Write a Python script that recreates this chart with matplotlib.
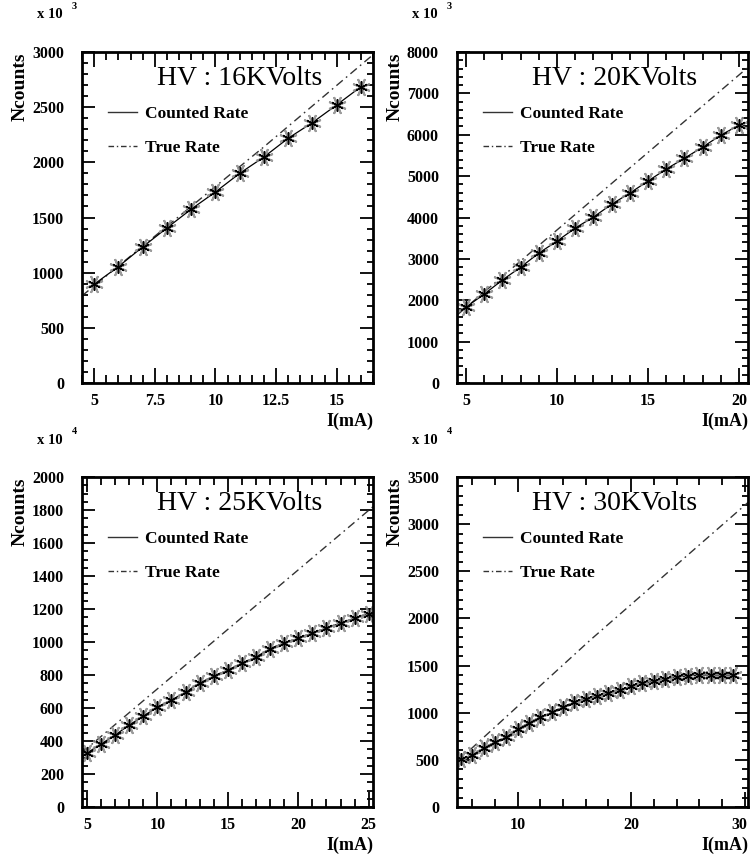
import matplotlib
matplotlib.use("Agg")
import matplotlib.pyplot as plt
import matplotlib.transforms as mtransforms
from matplotlib.lines import Line2D
from matplotlib.ticker import MultipleLocator, FormatStrFormatter

# ---------------- data ----------------
hv_labels = ["HV : 16KVolts", "HV : 20KVolts", "HV : 25KVolts", "HV : 30KVolts"]
exponents = ["3", "3", "4", "4"]

i1 = [5, 6, 7, 8, 9, 10, 11, 12, 13, 14, 15, 16]
counted1 = [895, 1055, 1233, 1405, 1575, 1731, 1900, 2048, 2218, 2360, 2520, 2685]
true_i1 = [4.5, 5, 12, 16.5]
true1 = [790, 880, 2140, 2975]

i2 = [5, 6, 7, 8, 9, 10, 11, 12, 13, 14, 15, 16, 17, 18, 19, 20]
counted2 = [1836, 2150, 2490, 2800, 3140, 3430, 3745, 4010, 4320, 4590, 4880, 5170, 5430, 5700, 5990, 6230]
true_i2 = [4.5, 20.5]
true2 = [1640, 7630]

i3 = list(range(5, 26))
counted3 = [327, 382, 436, 497, 551, 606, 648, 697, 751, 794, 830, 872, 909, 960,
            995, 1022, 1055, 1085, 1115, 1145, 1170]
true_i3 = [4.65, 25.3]
true3 = [330, 1820]

i4 = list(range(5, 30))
counted4 = [510, 551, 625, 690, 742, 825, 895, 950, 1003, 1062, 1110, 1150, 1182, 1210,
            1240, 1280, 1310, 1335, 1360, 1378, 1390, 1400, 1400, 1400, 1400]
true_i4 = [4.65, 16.4, 30.3]
true4 = [480, 1771, 3230]

legend_labels = ["Counted Rate", "True Rate"]
xlabel = "I(mA)"
ylabel = "Ncounts"

# ---------------- layout / style ----------------
W, H = 750, 868
fig = plt.figure(figsize=(W / 100, H / 100), dpi=100)
serif = "Liberation Serif"

panels = [
    dict(rect=(82, 52, 291, 331), x=i1, y=counted1, tx=true_i1, ty=true1,
         xlim=(4.5, 16.5), ylim=(0, 3000), xmaj=2.5, xmin=0.5, ymaj=500, ymin=100),
    dict(rect=(457, 52, 291, 331), x=i2, y=counted2, tx=true_i2, ty=true2,
         xlim=(4.5, 20.5), ylim=(0, 8000), xmaj=5, xmin=1, ymaj=1000, ymin=200),
    dict(rect=(82, 477, 291, 330), x=i3, y=counted3, tx=true_i3, ty=true3,
         xlim=(4.65, 25.3), ylim=(0, 2000), xmaj=5, xmin=1, ymaj=200, ymin=50),
    dict(rect=(457, 477, 291, 330), x=i4, y=counted4, tx=true_i4, ty=true4,
         xlim=(4.65, 30.3), ylim=(0, 3500), xmaj=10, xmin=2, ymaj=500, ymin=100),
]

for k, p in enumerate(panels):
    l, t, w, h = p["rect"]
    ax = fig.add_axes([l / W, 1 - (t + h) / H, w / W, h / H])
    ax.plot(p["tx"], p["ty"], color="#333333", lw=1.0, dashes=(6, 3, 1.2, 3))
    ax.plot(p["x"], p["y"], color="black", lw=0.9)
    ax.plot(p["x"], p["y"], ls="none", marker=(8, 2, 22.5), ms=13, mec="#8a8a8a",
            mew=1.4, alpha=0.85)
    ax.plot(p["x"], p["y"], ls="none", marker=(6, 2, 0), ms=9, mec="black", mew=1.0)
    ax.set_xlim(*p["xlim"])
    ax.set_ylim(*p["ylim"])
    ax.xaxis.set_major_locator(MultipleLocator(p["xmaj"]))
    ax.xaxis.set_minor_locator(MultipleLocator(p["xmin"]))
    ax.yaxis.set_major_locator(MultipleLocator(p["ymaj"]))
    ax.yaxis.set_minor_locator(MultipleLocator(p["ymin"]))
    ax.xaxis.set_major_formatter(FormatStrFormatter("%g"))
    ax.yaxis.set_major_formatter(FormatStrFormatter("%g"))
    for s in ax.spines.values():
        s.set_linewidth(2.0)
    ax.tick_params(which="both", direction="in", top=True, right=True, width=1.3)
    ax.tick_params(axis="x", which="major", length=11, pad=7)
    ax.tick_params(axis="x", which="minor", length=6)
    ax.tick_params(axis="y", which="major", length=9.5, pad=13)
    ax.tick_params(axis="y", which="minor", length=4.5)
    fig.canvas.draw()
    for lab in ax.get_xticklabels() + ax.get_yticklabels():
        lab.set_fontfamily(serif)
        lab.set_fontweight("bold")
        lab.set_fontsize(11.5)
    if k == 3:
        # keep the right-most x label inside the figure
        off = mtransforms.ScaledTranslation(-4 / 72, 0, fig.dpi_scale_trans)
        for lab in ax.xaxis.get_majorticklabels():
            if lab.get_text() == "30":
                lab.set_transform(lab.get_transform() + off)

    ax.text(0.54, 0.92, hv_labels[k], transform=ax.transAxes, ha="center", va="center",
            fontfamily=serif, fontsize=20)
    handles = [Line2D([], [], color="#333333", lw=1.0),
               Line2D([], [], color="#333333", lw=1.0, dashes=(4, 2, 1, 2))]
    ax.legend(handles, legend_labels, loc="upper left", bbox_to_anchor=(0.065, 0.858),
              frameon=False, handlelength=1.65, handletextpad=0.5, labelspacing=1.05,
              borderaxespad=0, prop=dict(family=serif, weight="bold", size=12.5))

    ax.text(-0.155, 1.112, "x 10", transform=ax.transAxes, ha="left", va="center",
            fontfamily=serif, fontweight="bold", fontsize=10.5)
    ax.text(-0.036, 1.138, exponents[k], transform=ax.transAxes, ha="left", va="center",
            fontfamily=serif, fontweight="bold", fontsize=7.5)
    ax.text(-0.213, 1.0, ylabel, transform=ax.transAxes, ha="center", va="top",
            rotation=90, fontfamily=serif, fontweight="bold", fontsize=14)
    ax.text(1.0, -0.115, xlabel, transform=ax.transAxes, ha="right", va="center",
            fontfamily=serif, fontweight="bold", fontsize=13)

fig.savefig("out.png", dpi=100, facecolor="white")
